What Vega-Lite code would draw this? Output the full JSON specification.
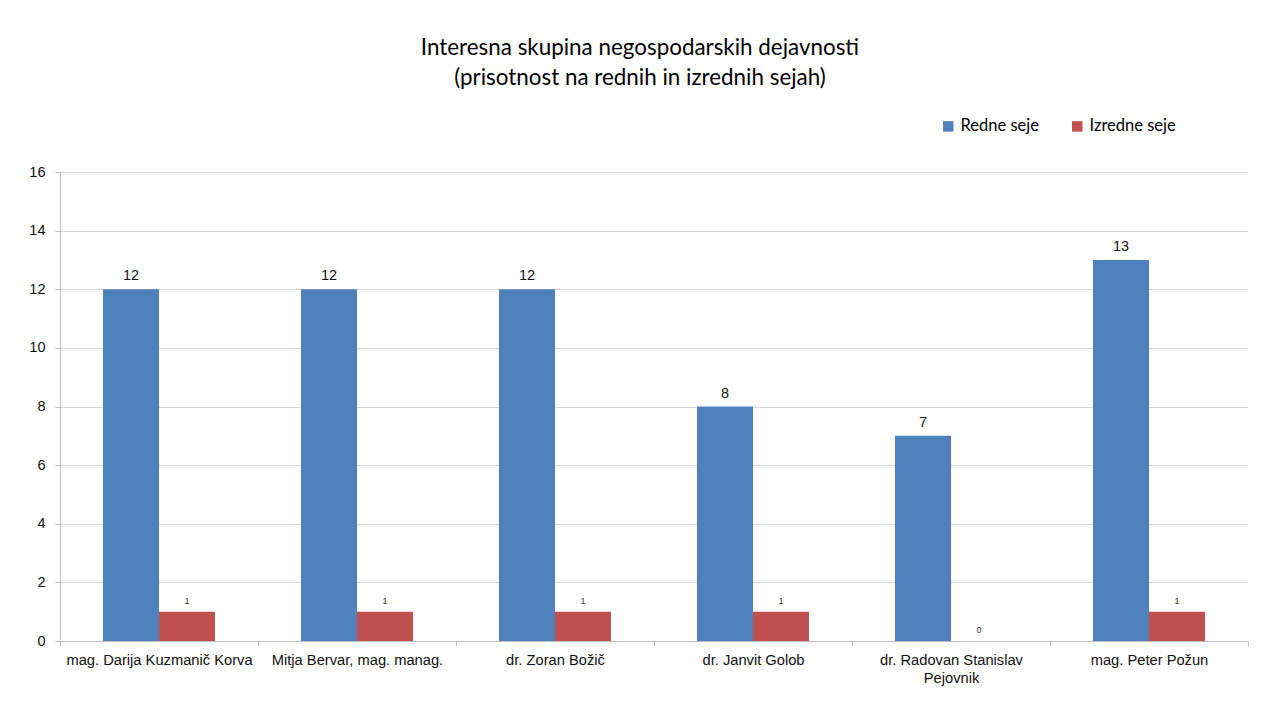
{
  "$schema": "https://vega.github.io/schema/vega-lite/v6.json",
  "autosize": "none",
  "width": 1188,
  "height": 469,
  "padding": {"left": 60, "top": 172, "right": 15, "bottom": 78},
  "background": "white",
  "title": {
    "text": ["Interesna skupina negospodarskih dejavnosti", "(prisotnost na rednih in izrednih sejah)"],
    "anchor": "middle",
    "font": "Lato",
    "fontSize": 22.4,
    "fontWeight": "normal",
    "color": "#000000",
    "lineHeight": 30,
    "offset": 29,
    "dx": -14
  },
  "data": {
    "values": [
      {"oseba": "mag. Darija Kuzmanič Korva", "vrsta": "Redne seje", "st": 12},
      {"oseba": "mag. Darija Kuzmanič Korva", "vrsta": "Izredne seje", "st": 1},
      {"oseba": "Mitja Bervar, mag. manag.", "vrsta": "Redne seje", "st": 12},
      {"oseba": "Mitja Bervar, mag. manag.", "vrsta": "Izredne seje", "st": 1},
      {"oseba": "dr. Zoran Božič", "vrsta": "Redne seje", "st": 12},
      {"oseba": "dr. Zoran Božič", "vrsta": "Izredne seje", "st": 1},
      {"oseba": "dr. Janvit Golob", "vrsta": "Redne seje", "st": 8},
      {"oseba": "dr. Janvit Golob", "vrsta": "Izredne seje", "st": 1},
      {"oseba": "dr. Radovan Stanislav Pejovnik", "vrsta": "Redne seje", "st": 7},
      {"oseba": "dr. Radovan Stanislav Pejovnik", "vrsta": "Izredne seje", "st": 0},
      {"oseba": "mag. Peter Požun", "vrsta": "Redne seje", "st": 13},
      {"oseba": "mag. Peter Požun", "vrsta": "Izredne seje", "st": 1}
    ]
  },
  "encoding": {
    "x": {
      "field": "oseba",
      "type": "nominal",
      "sort": null,
      "title": null,
      "scale": {"paddingInner": 0, "paddingOuter": 0},
      "axis": {
        "labelAngle": 0,
        "labelFont": "Liberation Sans",
        "labelFontSize": 14.7,
        "labelColor": "#111111",
        "labelPadding": 6,
        "labelLineHeight": 18,
        "labelBaseline": "top",
        "labelLimit": 0,
        "domainColor": "#bfbfbf",
        "tickColor": "#bfbfbf",
        "tickSize": 5,
        "tickBand": "extent",
        "grid": false,
        "labelExpr": "datum.label == 'dr. Radovan Stanislav Pejovnik' ? ['dr. Radovan Stanislav', 'Pejovnik'] : datum.label"
      }
    },
    "xOffset": {
      "field": "vrsta",
      "type": "nominal",
      "sort": ["Redne seje", "Izredne seje"],
      "scale": {"paddingInner": 0, "paddingOuter": 0.768}
    },
    "y": {
      "field": "st",
      "type": "quantitative",
      "title": null,
      "scale": {"domain": [0, 16], "nice": false},
      "axis": {
        "values": [0, 2, 4, 6, 8, 10, 12, 14, 16],
        "labelFont": "Liberation Sans",
        "labelFontSize": 14.5,
        "labelColor": "#111111",
        "labelPadding": 10,
        "domainColor": "#bfbfbf",
        "tickColor": "#bfbfbf",
        "tickSize": 5,
        "gridColor": "#d9d9d9",
        "gridWidth": 1
      }
    }
  },
  "layer": [
    {
      "mark": {"type": "bar"},
      "encoding": {
        "color": {
          "field": "vrsta",
          "type": "nominal",
          "sort": ["Redne seje", "Izredne seje"],
          "scale": {"domain": ["Redne seje", "Izredne seje"], "range": ["#4F81BD", "#C0504D"]},
          "legend": {
            "title": null,
            "orient": "none",
            "direction": "horizontal",
            "legendX": 880,
            "legendY": -54,
            "symbolType": "square",
            "symbolSize": 110,
            "symbolStrokeWidth": 0,
            "labelFont": "Lato",
            "labelFontSize": 16.5,
            "labelColor": "#000000",
            "columnPadding": 30,
            "labelOffset": 4
          }
        }
      }
    },
    {
      "transform": [{"filter": "datum.vrsta == 'Redne seje'"}],
      "mark": {"type": "text", "baseline": "bottom", "dy": -6, "font": "Liberation Sans", "fontSize": 14.5, "color": "#111111"},
      "encoding": {
        "text": {"field": "st", "type": "quantitative"}
      }
    },
    {
      "transform": [{"filter": "datum.vrsta == 'Izredne seje'"}],
      "mark": {"type": "text", "baseline": "bottom", "dy": -6, "font": "Liberation Sans", "fontSize": 9, "color": "#333333"},
      "encoding": {
        "text": {"field": "st", "type": "quantitative"}
      }
    }
  ],
  "config": {
    "view": {"stroke": null}
  }
}
